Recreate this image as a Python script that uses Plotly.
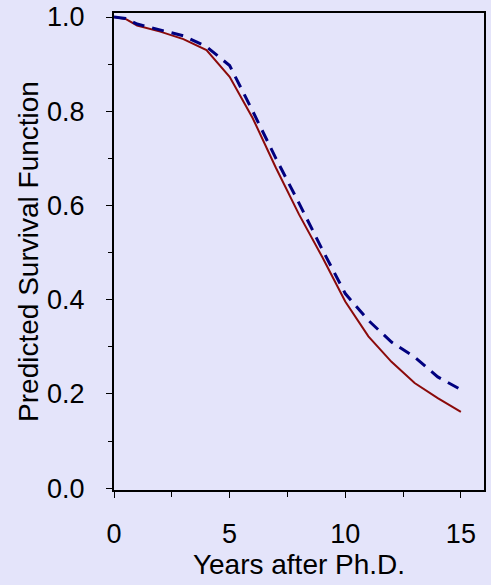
import plotly.graph_objects as go

years = [0, 0.5, 1, 2, 3, 4, 5, 6, 7, 8, 9, 10, 11, 12, 13, 14, 15]
survival_solid = [1.0, 0.996, 0.982, 0.969, 0.953, 0.930, 0.873, 0.785, 0.680, 0.581,
                  0.491, 0.396, 0.322, 0.268, 0.223, 0.191, 0.162]
survival_dashed = [1.0, 0.997, 0.985, 0.973, 0.960, 0.937, 0.897, 0.800, 0.700, 0.605,
                   0.507, 0.413, 0.356, 0.310, 0.278, 0.236, 0.209]

x_ticks = [0, 5, 10, 15]
y_ticks = [0.0, 0.2, 0.4, 0.6, 0.8, 1.0]
y_tick_labels = ["0.0", "0.2", "0.4", "0.6", "0.8", "1.0"]

BG = "#E4E4FA"
FONT = "Liberation Sans, Arial, sans-serif"

fig = go.Figure()
fig.add_trace(go.Scatter(x=years, y=survival_solid, mode="lines",
                         line=dict(color="#8B0A0A", width=2), showlegend=False))
fig.add_trace(go.Scatter(x=years, y=survival_dashed, mode="lines",
                         line=dict(color="#00007F", width=3, dash="12px,8px"),
                         showlegend=False))

fig.update_layout(
    width=491, height=585,
    margin=dict(l=114, r=7, t=13, b=95, pad=0),
    paper_bgcolor=BG, plot_bgcolor=BG,
    font=dict(family=FONT, color="black"),
)
fig.update_xaxes(
    range=[0, 16], tickvals=x_ticks, ticktext=[str(v) for v in x_ticks],
    showgrid=False, zeroline=False, showline=True, linecolor="black", linewidth=2,
    mirror=True, ticks="outside", ticklen=6, tickwidth=1, tickcolor="black",
    minor=dict(ticks="outside", ticklen=5, tickwidth=1, tickcolor="black",
               tickvals=[2.5, 7.5, 12.5]),
    tickfont=dict(size=27, family=FONT), ticklabelstandoff=13,
    title=dict(text="Years after Ph.D.", font=dict(size=28, family=FONT), standoff=5),
    automargin=False,
)
fig.update_yaxes(
    range=[-0.004, 1.0085], tickvals=y_ticks, ticktext=y_tick_labels,
    showgrid=False, zeroline=False, showline=True, linecolor="black", linewidth=2,
    mirror=True, ticks="outside", ticklen=6, tickwidth=1, tickcolor="black",
    minor=dict(ticks="outside", ticklen=4, tickwidth=1, tickcolor="black",
               tickvals=[0.1, 0.3, 0.5, 0.7, 0.9]),
    tickfont=dict(size=27, family=FONT), ticklabelstandoff=16,
    title=dict(text="Predicted Survival Function", font=dict(size=28, family=FONT), standoff=0),
    automargin=False,
)

fig.write_html("out.html")
